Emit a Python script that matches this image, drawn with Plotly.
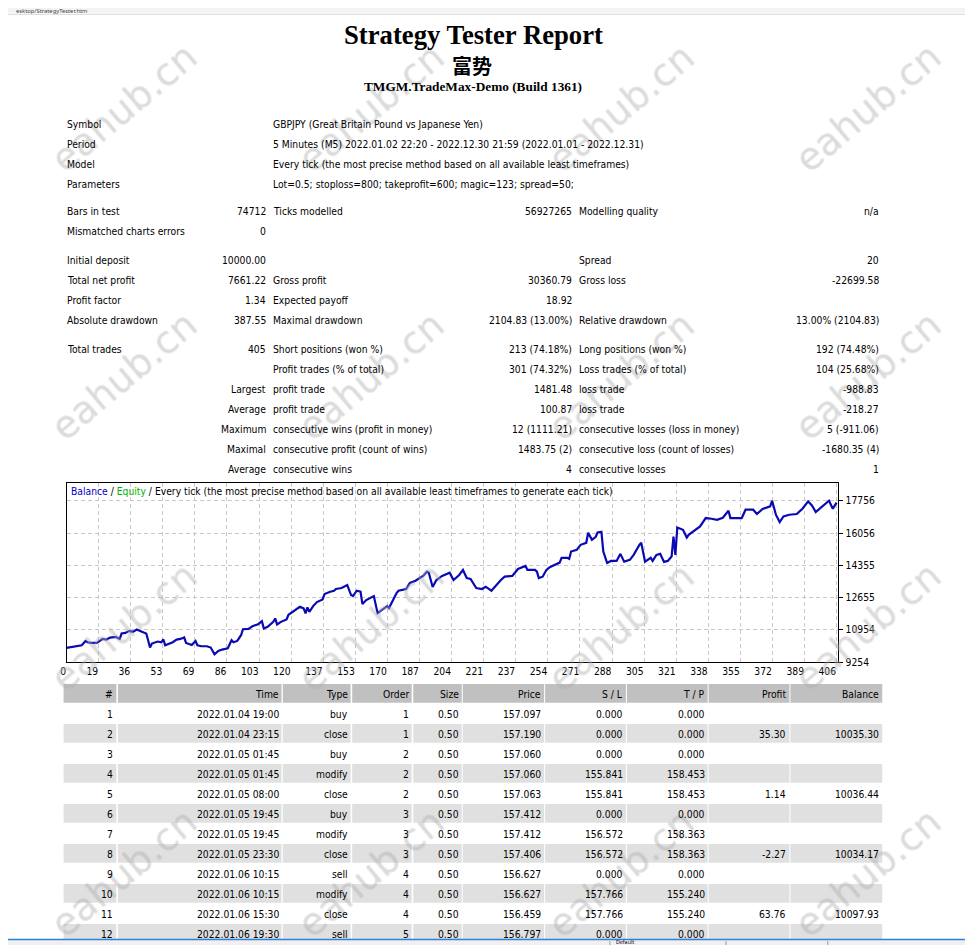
import plotly.graph_objects as go

# the browser page keeps its 8px body margin and the shot is taken slightly scaled,
# so page positions are derived from the wanted on-screen pixel positions
OFF = 8
SX, SY = 0.9926, 0.9933
DX, DY = 7.55, 0.25
W, H = 965, 943
FONT = "Tahoma, 'DejaVu Sans Condensed', sans-serif"
SERIF = "'Times New Roman', 'Liberation Serif', serif"

# balance curve (trade number -> balance)
trade_no = [0, 6, 8, 10, 11, 13, 16, 19, 21, 23, 26, 28, 29, 31, 33, 35, 37, 40, 42, 43,
            44, 45, 48, 50, 51, 52, 54, 56, 58, 60, 62, 63, 66, 68, 69, 71, 74, 76, 78, 80,
            82, 85, 87, 88, 90, 92, 93, 96, 98, 101, 103, 104, 106, 108, 109, 110, 111, 113, 116, 117,
            118, 121, 123, 125, 126, 127, 128, 130, 132, 135, 136, 139, 141, 142, 145, 148, 150, 151, 153, 155,
            156, 158, 162, 164, 166, 169, 170, 172, 174, 175, 179, 181, 184, 187, 188, 190, 191, 193, 195, 198,
            200, 202, 204, 207, 209, 211, 213, 216, 219, 221, 224, 226, 229, 231, 235, 238, 242, 243, 247, 248,
            249, 251, 253, 255, 260, 261, 264, 265, 266, 269, 271, 274, 275, 277, 279, 280, 282, 283, 285, 287,
            290, 292, 294, 297, 299, 302, 303, 305, 308, 309, 311, 313, 315, 317, 319, 320, 321, 322, 325, 327,
            328, 334, 337, 340, 343, 346, 349, 350, 356, 358, 362, 364, 367, 371, 372, 374, 376, 378, 381, 385,
            388, 391, 393, 395, 399, 402, 404, 406]
balance = [10000, 10085, 10140, 10366, 10298, 10260, 10260, 10472, 10440, 10546, 10578, 10472, 10758, 10790, 10896, 10843, 10970, 10843, 10758, 10404,
           10017, 10229, 10335, 10298, 10456, 10139, 10229, 10298, 10440, 10472, 10546, 10260, 10154, 10366, 10139, 10086, 10086, 10017, 9662, 9837,
           9911, 9980, 10404, 10298, 10366, 10668, 10986, 11002, 11145, 11251, 11410, 11023, 11108, 11288, 11373, 11553, 11235, 11373, 11500, 11744,
           11818, 12030, 12167, 12083, 11818, 12136, 11903, 12204, 12416, 12559, 12840, 12962, 13015, 13105, 13158, 13317, 12787, 12734, 13015, 12962,
           12310, 12522, 12734, 11834, 11993, 12204, 12098, 12522, 12893, 13015, 13105, 13423, 13545, 13741, 13794, 14021, 13968, 13211, 13582, 13794,
           13899, 13968, 13582, 13846, 14111, 13688, 13635, 13158, 13105, 13227, 13015, 13264, 13582, 13756, 13794, 14164, 14323, 14111, 14111, 14021,
           13688, 13756, 14111, 14270, 14498, 14747, 14747, 14694, 15081, 15171, 15436, 15542, 16071, 15701, 15859, 16087, 16124, 15081, 14482, 14588,
           14588, 14959, 14551, 14641, 14906, 15436, 15542, 14551, 14747, 14588, 14906, 14959, 14535, 14588, 14816, 15875, 14906, 16352, 16230, 15822,
           15965, 16405, 16850, 16813, 16760, 16866, 17237, 16850, 16850, 17290, 17290, 17062, 17327, 17464, 17766, 17025, 16638, 16935, 17025, 17062,
           17342, 17729, 17517, 17168, 17517, 17766, 17342, 17661]

y_ticks = [9254, 10954, 12655, 14355, 16056, 17756]
x_tick_text = ["0", "19", "36", "53", "69", "86", "103", "120", "137", "153", "170", "187", "204",
               "221", "237", "254", "271", "288", "305", "321", "338", "355", "372", "389", "406"]

# header texts
title = "Strategy Tester Report"
ea_name = "富势"
server = "TMGM.TradeMax-Demo (Build 1361)"

info_labels = ["Symbol", "Period", "Model", "Parameters"]
info_values = ["GBPJPY (Great Britain Pound vs Japanese Yen)",
               "5 Minutes (M5) 2022.01.02 22:20 - 2022.12.30 21:59 (2022.01.01 - 2022.12.31)",
               "Every tick (the most precise method based on all available least timeframes)",
               "Lot=0.5; stoploss=800; takeprofit=600; magic=123; spread=50;"]

# summary block, six cells per row
stats = [
    ["Bars in test", "74712", "Ticks modelled", "56927265", "Modelling quality", "n/a"],
    ["Mismatched charts errors", "0", "", "", "", ""],
    ["Initial deposit", "10000.00", "", "", "Spread", "20"],
    ["Total net profit", "7661.22", "Gross profit", "30360.79", "Gross loss", "-22699.58"],
    ["Profit factor", "1.34", "Expected payoff", "18.92", "", ""],
    ["Absolute drawdown", "387.55", "Maximal drawdown", "2104.83 (13.00%)", "Relative drawdown", "13.00% (2104.83)"],
    ["Total trades", "405", "Short positions (won %)", "213 (74.18%)", "Long positions (won %)", "192 (74.48%)"],
    ["", "", "Profit trades (% of total)", "301 (74.32%)", "Loss trades (% of total)", "104 (25.68%)"],
    ["", "Largest", "profit trade", "1481.48", "loss trade", "-988.83"],
    ["", "Average", "profit trade", "100.87", "loss trade", "-218.27"],
    ["", "Maximum", "consecutive wins (profit in money)", "12 (1111.21)", "consecutive losses (loss in money)", "5 (-911.06)"],
    ["", "Maximal", "consecutive profit (count of wins)", "1483.75 (2)", "consecutive loss (count of losses)", "-1680.35 (4)"],
    ["", "Average", "consecutive wins", "4", "consecutive losses", "1"],
]

# orders table
columns = ["#", "Time", "Type", "Order", "Size", "Price", "S / L", "T / P", "Profit", "Balance"]
deal_no = ["1", "2", "3", "4", "5", "6", "7", "8", "9", "10", "11", "12"]
deal_time = ["2022.01.04 19:00", "2022.01.04 23:15", "2022.01.05 01:45", "2022.01.05 01:45",
             "2022.01.05 08:00", "2022.01.05 19:45", "2022.01.05 19:45", "2022.01.05 23:30",
             "2022.01.06 10:15", "2022.01.06 10:15", "2022.01.06 15:30", "2022.01.06 19:30"]
deal_type = ["buy", "close", "buy", "modify", "close", "buy", "modify", "close", "sell", "modify", "close", "sell"]
deal_order = ["1", "1", "2", "2", "2", "3", "3", "3", "4", "4", "4", "5"]
deal_size = ["0.50"] * 12
deal_price = ["157.097", "157.190", "157.060", "157.060", "157.063", "157.412",
              "157.412", "157.406", "156.627", "156.627", "156.459", "156.797"]
deal_sl = ["0.000", "0.000", "0.000", "155.841", "155.841", "0.000",
           "156.572", "156.572", "0.000", "157.766", "157.766", "0.000"]
deal_tp = ["0.000", "0.000", "0.000", "158.453", "158.453", "0.000",
           "158.363", "158.363", "0.000", "155.240", "155.240", "0.000"]
deal_profit = ["", "35.30", "", "", "1.14", "", "", "-2.27", "", "", "63.76", ""]
deal_balance = ["", "10035.30", "", "", "10036.44", "", "", "10034.17", "", "", "10097.93", ""]

# ---- page layout, in on-screen pixels ----
stat_rows_y = [211, 231, 260, 280, 300, 320, 349, 369, 389, 409, 429, 449, 469]
info_rows_y = [124, 144, 164, 184]
COL1_L, COL1_R, COL2_L, COL2_R, COL3_L, COL3_R = 68, 267, 274, 573, 580, 879
col_left = [65, 119.3, 284, 353.3, 414.3, 463.7, 546, 627.7, 709.3, 791]
col_right = [117.7, 282.7, 351.7, 412.7, 462.7, 545, 626.7, 708.3, 790, 882.7]
TABLE_TOP = 684
ROW_H = 20
TXT = 10.25


def px(x):
    return ((x - DX) / SX - OFF) / W


def py(y):
    return 1 - ((y - DY) / SY - OFF) / H


anns = []
shapes = []


def note(x, y, text, anchor="left", size=TXT, color="#000000", family=FONT, **kw):
    anns.append(dict(x=px(x), y=py(y), xref="paper", yref="paper", text=text,
                     showarrow=False, xanchor=anchor, yanchor="middle",
                     borderpad=0, borderwidth=0,
                     font=dict(family=family, size=size, color=color), **kw))


def rect(x0, y0, x1, y1, color, layer="below"):
    shapes.append(dict(type="rect", xref="paper", yref="paper", x0=px(x0), x1=px(x1),
                       y0=py(y1), y1=py(y0), fillcolor=color, line=dict(width=0), layer=layer))


def hline(y, x0, x1, color, width=1):
    shapes.append(dict(type="line", xref="paper", yref="paper", x0=px(x0), x1=px(x1),
                       y0=py(y), y1=py(y), line=dict(color=color, width=width)))


# watermarks go first so every other text sits on top
for wy in [108, 376, 627, 873]:
    for wx in [125, 372, 622, 868]:
        anns.append(dict(x=px(wx), y=py(wy), xref="paper", yref="paper", text="eahub.cn",
                         showarrow=False, textangle=-40, xanchor="center", yanchor="middle",
                         font=dict(family="DejaVu Sans", size=38, color="rgba(190,190,190,0.2)",
                                   shadow="1px 0 0 rgba(170,170,170,0.5), -1px 0 0 rgba(170,170,170,0.5), "
                                          "0 1px 0 rgba(170,170,170,0.5), 0 -1px 0 rgba(170,170,170,0.5)")))

# browser chrome at top
rect(0, 0, 973, 13, "#f1f3f4", layer="above")
hline(14.5, 0, 973, "#d6d6d6")
note(17, 11.6, "esktop/StrategyTester.htm", size=5.8, color="#444444", family="'Noto Sans', sans-serif")

# titles
note(474, 35, "<b>" + title + "</b>", anchor="center", size=26.7, family=SERIF)
note(473, 66, "<b>" + ea_name + "</b>", anchor="center", size=20, family="'Noto Sans CJK SC', sans-serif")
note(474, 87, "<b>" + server + "</b>", anchor="center", size=13.3, family=SERIF)

for lab, val, yy in zip(info_labels, info_values, info_rows_y):
    note(COL1_L, yy, lab)
    note(COL2_L, yy, val)

for row, yy in zip(stats, stat_rows_y):
    for i, (xx, anc) in enumerate([(COL1_L, "left"), (COL1_R, "right"), (COL2_L, "left"),
                                   (COL2_R, "right"), (COL3_L, "left"), (COL3_R, "right")]):
        if row[i]:
            note(xx, yy, row[i], anchor=anc)

# chart caption
note(72, 491.5, "<span style='color:#0000C8'>Balance</span> / <span style='color:#00B400'>Equity</span>"
     " / Every tick (the most precise method based on all available least timeframes to generate each tick)")

# orders table
for c in range(len(columns)):
    rect(col_left[c], TABLE_TOP, col_right[c], TABLE_TOP + ROW_H - 1.3, "#C0C0C0")
    note(col_right[c] - 3, TABLE_TOP + 10, columns[c], anchor="right")
table_cols = [deal_no, deal_time, deal_type, deal_order, deal_size, deal_price,
              deal_sl, deal_tp, deal_profit, deal_balance]
for r in range(len(deal_no)):
    top = TABLE_TOP + ROW_H * (r + 1)
    if r % 2 == 1:
        for c in range(len(columns)):
            rect(col_left[c], top, col_right[c], top + ROW_H - 1.3, "#E0E0E0")
    for c, col in enumerate(table_cols):
        if col[r]:
            note(col_right[c] - 3, top + 10, col[r], anchor="right")

# browser status strip at the bottom
rect(0, 940, 973, 946, "#f0f0f0", layer="above")
hline(939.5, 0, 973, "#2f7fe0", 1.5)
for sx in [610.7, 726.7, 828.3]:
    shapes.append(dict(type="line", xref="paper", yref="paper", x0=px(sx), x1=px(sx),
                       y0=py(946), y1=py(941), line=dict(color="#9a9a9a", width=1)))
note(617, 942.3, "Default", size=5.5)

fig = go.Figure()
fig.add_trace(go.Scatter(x=trade_no, y=balance, mode="lines",
                         line=dict(color="#0A0AB4", width=2.2), hoverinfo="skip"))

fig.update_layout(
    width=W, height=H,
    margin=dict(l=0, r=0, t=0, b=0),
    paper_bgcolor="white", plot_bgcolor="white",
    showlegend=False,
    annotations=anns,
    shapes=shapes,
    xaxis=dict(domain=[px(68), px(839)], range=[0, 407],
               tickvals=[i * 406 / 24 for i in range(25)], ticktext=x_tick_text,
               ticklabelposition="outside left", ticks="",
               showgrid=True, gridcolor="#c8c8c8", griddash="4px,3px", gridwidth=1,
               showline=True, mirror=True, linecolor="black", linewidth=1,
               zeroline=False, fixedrange=True,
               tickfont=dict(family=FONT, size=TXT, color="black")),
    yaxis=dict(domain=[py(662), py(483)], range=[9254, 18700], side="right",
               tickvals=y_ticks, ticktext=[str(v) for v in y_ticks],
               ticks="outside", ticklen=4, tickcolor="black",
               showgrid=True, gridcolor="#c8c8c8", griddash="4px,3px", gridwidth=1,
               showline=True, mirror=True, linecolor="black", linewidth=1,
               zeroline=False, fixedrange=True,
               tickfont=dict(family=FONT, size=TXT, color="black")),
)

fig.write_html("out.html")
